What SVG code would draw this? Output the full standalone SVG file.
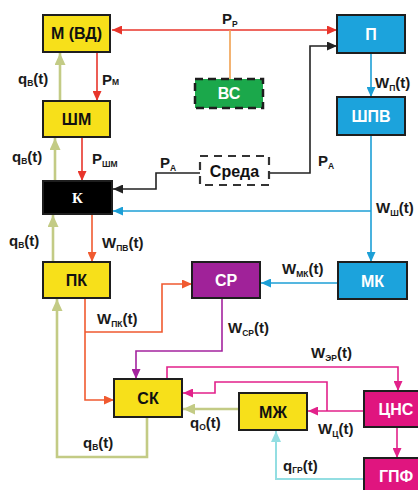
<svg xmlns="http://www.w3.org/2000/svg" width="418" height="490" viewBox="0 0 418 490">
<style>
.box{stroke:#1e1e1e;stroke-width:2}
.y{fill:#F7E01A}
.bl{fill:#1CA3DC}
.mg{fill:#E0157F}
.pu{fill:#A02299}
.gr{fill:#1BA84B}
.bt{font-family:"Liberation Sans",Arial,sans-serif;font-weight:bold;font-size:16px;text-anchor:middle}
.w{fill:#fff}
.k{fill:#111}
.lb{font-family:"Liberation Sans",Arial,sans-serif;font-weight:bold;font-size:15px;fill:#1a1a1a}
.s{font-size:8.5px}
.c{fill:none;stroke-width:1.6}
.red{stroke:#E8352B}
.org{stroke:#F05A30}
.ol{stroke:#C3CB85;stroke-width:2.6}
.blu{stroke:#1C9FD6}
.blk{stroke:#222}
.pur{stroke:#A4239E}
.pnk{stroke:#E2218A}
.cy{stroke:#93DEE2;stroke-width:2}
.or2{stroke:#F0A050}
</style>
<defs>
<marker id="aR" markerWidth="10" markerHeight="9" refX="10" refY="4.5" orient="auto" markerUnits="userSpaceOnUse"><path d="M0,0L10,4.5L0,9z" fill="#E8352B"/></marker>
<marker id="aRs" markerWidth="10" markerHeight="9" refX="0" refY="4.5" orient="auto" markerUnits="userSpaceOnUse"><path d="M10,0L0,4.5L10,9z" fill="#E8352B"/></marker>
<marker id="aO" markerWidth="10" markerHeight="9" refX="10" refY="4.5" orient="auto" markerUnits="userSpaceOnUse"><path d="M0,0L10,4.5L0,9z" fill="#F05A30"/></marker>
<marker id="aG" markerWidth="12" markerHeight="11" refX="12" refY="5.5" orient="auto" markerUnits="userSpaceOnUse"><path d="M0,0L12,5.5L0,11z" fill="#C3CB85"/></marker>
<marker id="aB" markerWidth="10" markerHeight="9" refX="10" refY="4.5" orient="auto" markerUnits="userSpaceOnUse"><path d="M0,0L10,4.5L0,9z" fill="#1C9FD6"/></marker>
<marker id="aK" markerWidth="10" markerHeight="9" refX="10" refY="4.5" orient="auto" markerUnits="userSpaceOnUse"><path d="M0,0L10,4.5L0,9z" fill="#222"/></marker>
<marker id="aP" markerWidth="10" markerHeight="9" refX="10" refY="4.5" orient="auto" markerUnits="userSpaceOnUse"><path d="M0,0L10,4.5L0,9z" fill="#A4239E"/></marker>
<marker id="aM" markerWidth="10" markerHeight="9" refX="10" refY="4.5" orient="auto" markerUnits="userSpaceOnUse"><path d="M0,0L10,4.5L0,9z" fill="#E2218A"/></marker>
<marker id="aC" markerWidth="11" markerHeight="10" refX="11" refY="5" orient="auto" markerUnits="userSpaceOnUse"><path d="M0,0L11,5L0,10z" fill="#93DEE2"/></marker>
</defs>
<rect width="418" height="490" fill="#fff"/>

<g id="connectors">
<path class="c red" d="M112,30H337" marker-start="url(#aRs)" marker-end="url(#aR)"/>
<path class="c or2" d="M230,30V79"/>
<path class="c red" d="M97,52V101" marker-end="url(#aR)"/>
<path class="c red" d="M82,137V181" marker-end="url(#aR)"/>
<path class="c org" d="M92,214V262" marker-end="url(#aO)"/>
<path class="c ol" d="M60,101V53" marker-end="url(#aG)"/>
<path class="c ol" d="M55,181V138" marker-end="url(#aG)"/>
<path class="c ol" d="M53,262V215" marker-end="url(#aG)"/>
<path class="c ol" d="M147,417V457H57V299" marker-end="url(#aG)"/>
<path class="c ol" d="M239,409H183" marker-end="url(#aG)"/>
<path class="c blu" d="M371,53V97" marker-end="url(#aB)"/>
<path class="c blu" d="M371,135V262" marker-end="url(#aB)"/>
<path class="c blu" d="M371,211H113" marker-end="url(#aB)"/>
<path class="c blu" d="M338,283H261" marker-end="url(#aB)"/>
<path class="c blk" d="M200,173H156V189H113" marker-end="url(#aK)"/>
<path class="c blk" d="M269,173H310V46H337" marker-end="url(#aK)"/>
<path class="c org" d="M85,298V400H114" marker-end="url(#aO)"/>
<path class="c org" d="M85,332H162V284H192" marker-end="url(#aO)"/>
<path class="c pur" d="M222,298V351H136V379" marker-end="url(#aP)"/>
<path class="c pnk" d="M167,379V367H398V391" marker-end="url(#aM)"/>
<path class="c pnk" d="M364,411H308" marker-end="url(#aM)"/>
<path class="c pnk" d="M327,411V382H215V393H183" marker-end="url(#aM)"/>
<path class="c pnk" d="M397,427V458" marker-end="url(#aM)"/>
<path class="c cy" d="M364,479H276V431" marker-end="url(#aC)"/>
</g>

<g id="n-M"><rect class="box y" x="43" y="15" width="67" height="37"/><text class="bt k" x="76.5" y="39">М (ВД)</text></g>
<g id="n-SHM"><rect class="box y" x="43" y="101" width="67" height="36"/><text class="bt k" x="76.5" y="125">ШМ</text></g>
<g id="n-K"><rect class="box" fill="#000" x="43" y="181" width="69" height="33"/><text x="77.5" y="203" fill="#fff" font-family="'Liberation Serif',serif" font-size="15" font-weight="bold" text-anchor="middle">К</text></g>
<g id="n-PK"><rect class="box y" x="43" y="262" width="67" height="36"/><text class="bt k" x="76.5" y="286">ПК</text></g>
<g id="n-SK"><rect class="box y" x="114" y="379" width="68" height="38"/><text class="bt k" x="148" y="404">СК</text></g>
<g id="n-P"><rect class="box bl" x="337" y="15" width="68" height="38"/><text class="bt w" x="371" y="40">П</text></g>
<g id="n-SHPV"><rect class="box bl" x="337" y="97" width="68" height="38"/><text class="bt w" x="371" y="122">ШПВ</text></g>
<g id="n-MK"><rect class="box bl" x="338" y="262" width="69" height="37"/><text class="bt w" x="372.5" y="287">МК</text></g>
<g id="n-SR"><rect class="box pu" x="192" y="262" width="68" height="36"/><text class="bt w" x="226" y="286">СР</text></g>
<g id="n-VS"><rect x="195" y="79" width="68" height="29" fill="#1BA84B" stroke="#1e1e1e" stroke-width="2.5" stroke-dasharray="8,5"/><text class="bt w" x="229" y="99">ВС</text></g>
<g id="n-Sreda"><rect x="200" y="156" width="69" height="29" fill="#fff" stroke="#333" stroke-width="2.2" stroke-dasharray="8,6"/><text class="bt k" x="234.5" y="177">Среда</text></g>
<g id="n-MZH"><rect class="box y" x="239" y="393" width="68" height="37"/><text class="bt k" x="273" y="418">МЖ</text></g>
<g id="n-CNS"><rect class="box mg" x="364" y="391" width="66" height="36"/><text class="bt w" x="396" y="415">ЦНС</text></g>
<g id="n-GPF"><rect class="box mg" x="364" y="458" width="66" height="40"/><text class="bt w" x="396" y="482">ГПФ</text></g>

<g id="labels">
<text class="lb" x="222" y="24">P<tspan class="s" dy="3">Р</tspan></text>
<text class="lb" x="102" y="85">P<tspan class="s">М</tspan></text>
<text class="lb" x="92" y="164">P<tspan class="s" dy="3">ШМ</tspan></text>
<text class="lb" x="18" y="84">q<tspan class="s" dy="2">В</tspan><tspan dy="-2">(t)</tspan></text>
<text class="lb" x="12" y="162">q<tspan class="s" dy="2">В</tspan><tspan dy="-2">(t)</tspan></text>
<text class="lb" x="9" y="246">q<tspan class="s" dy="2">В</tspan><tspan dy="-2">(t)</tspan></text>
<text class="lb" x="102" y="248">W<tspan class="s" dy="3">ПВ</tspan><tspan dy="-3">(t)</tspan></text>
<text class="lb" x="97" y="324">W<tspan class="s" dy="3">ПК</tspan><tspan dy="-3">(t)</tspan></text>
<text class="lb" x="282" y="274">W<tspan class="s" dy="3">МК</tspan><tspan dy="-3">(t)</tspan></text>
<text class="lb" x="376" y="213">W<tspan class="s" dy="3">Ш</tspan><tspan dy="-3">(t)</tspan></text>
<text class="lb" x="375" y="88">W<tspan class="s" dy="3">П</tspan><tspan dy="-3">(t)</tspan></text>
<text class="lb" x="160" y="168">P<tspan class="s" dy="3">А</tspan></text>
<text class="lb" x="318" y="166">P<tspan class="s" dy="3">А</tspan></text>
<text class="lb" x="228" y="333">W<tspan class="s" dy="3">СР</tspan><tspan dy="-3">(t)</tspan></text>
<text class="lb" x="311" y="358">W<tspan class="s" dy="3">ЭР</tspan><tspan dy="-3">(t)</tspan></text>
<text class="lb" x="318" y="434">W<tspan class="s" dy="3">Ц</tspan><tspan dy="-3">(t)</tspan></text>
<text class="lb" x="190" y="428">q<tspan class="s" dy="2">О</tspan><tspan dy="-2">(t)</tspan></text>
<text class="lb" x="283" y="471">q<tspan class="s" dy="2">ГР</tspan><tspan dy="-2">(t)</tspan></text>
<text class="lb" x="83" y="448">q<tspan class="s" dy="2">В</tspan><tspan dy="-2">(t)</tspan></text>
</g>
</svg>
